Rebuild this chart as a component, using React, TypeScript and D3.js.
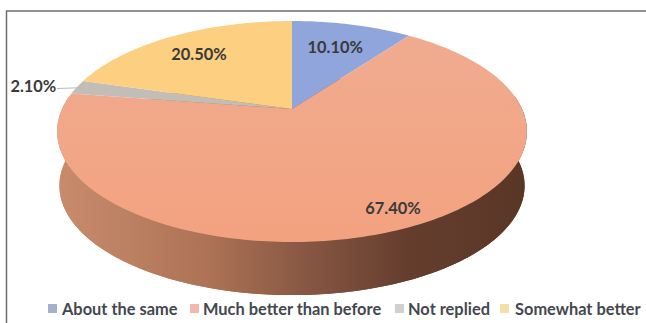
import React from "react";
import * as d3 from "d3";

const categories = ["About the same", "Much better than before", "Not replied", "Somewhat better"];
const shares = [10.1, 67.4, 2.1, 20.5];
const sliceFills = ["#8fa5dc", "url(#salmonTop)", "#c2bdb6", "#fccf81"];
const legendFills = ["#a3b1cb", "#f3b7ab", "#d0cfcd", "#f8dfa6"];
const legendSwatchX = [48, 190, 395, 500];
const legendTextX = [62, 203, 408, 515];
const labelRadii = [0.7, 0.85, 1.12, 0.73];
const labelNudgeX = [-1, 12, -19, -3];
const labelNudgeY = [0, -1, 1, 0];

const WIDTH = 646;
const HEIGHT = 323;

// Perspective projection of a disc lying flat: the near rim spreads further from the hub than the far rim.
const tilt = 0.2036;
const discTop = { cx: 292, cy: 109, rx: 230, ry: 105.9 };
const discBottom = { cx: 292, cy: 163.5, rx: 227.7, ry: 104.8 };

type Disc = typeof discTop;
const project = (d: Disc, angle: number, r = 1): [number, number] => {
  const u = Math.sin(angle) * r;
  const v = -Math.cos(angle) * r;
  const w = 1 - tilt * v;
  return [d.cx + (d.rx * u) / w, d.cy + (d.ry * v) / w];
};

const rimAngles = (a0: number, a1: number) => {
  const n = Math.max(2, Math.ceil(Math.abs(a1 - a0) / 0.02));
  return d3.range(n + 1).map((i) => a0 + ((a1 - a0) * i) / n);
};

const pieLayout = d3.pie<number>().sort(null).startAngle(0).endAngle(2 * Math.PI);
const line = d3.line();

export default function App() {
  const arcs = pieLayout(shares);
  const sideAngles = rimAngles(Math.PI * 0.46, Math.PI * 1.54);
  const sidePath =
    line([
      ...sideAngles.map((a) => project(discTop, a)),
      ...sideAngles.slice().reverse().map((a) => project(discBottom, a)),
    ]) + "Z";
  const bottomPath = line(rimAngles(0, 2 * Math.PI).map((a) => project(discBottom, a))) + "Z";
  const fmt = (v: number) => v.toFixed(2) + "%";

  const notReplied = arcs[2];
  const leaderEnd = project(discTop, (notReplied.startAngle + notReplied.endAngle) / 2, 0.97);

  return (
    <svg
      width={WIDTH}
      height={HEIGHT}
      style={{ position: "fixed", left: 0, top: 0, background: "#fff" }}
      fontFamily="Lato, sans-serif"
      fontWeight={700}
    >
      <defs>
        <linearGradient id="sideShade" gradientUnits="userSpaceOnUse" x1={57} x2={527} y1={0} y2={0}>
          <stop offset="0" stopColor="#c98b6c" />
          <stop offset="0.32" stopColor="#ad7356" />
          <stop offset="0.56" stopColor="#825340" />
          <stop offset="0.75" stopColor="#643d2d" />
          <stop offset="1" stopColor="#5a3626" />
        </linearGradient>
        <linearGradient id="salmonTop" gradientUnits="userSpaceOnUse" x1={0} x2={0} y1={21} y2={242}>
          <stop offset="0" stopColor="#f0ac90" />
          <stop offset="1" stopColor="#f3a280" />
        </linearGradient>
      </defs>

      <path d={`M6.5,${HEIGHT}V11H${WIDTH}`} fill="none" stroke="#6e6e6e" strokeWidth={1.5} />

      <path d={bottomPath} fill="url(#sideShade)" />
      <path d={sidePath} fill="url(#sideShade)" />

      {arcs.map((a, i) => {
        const pts = rimAngles(a.startAngle, a.endAngle).map((t) => project(discTop, t));
        return <path key={categories[i]} d={line([[discTop.cx, discTop.cy], ...pts]) + "Z"} fill={sliceFills[i]} />;
      })}

      <line x1={57} y1={88.5} x2={leaderEnd[0]} y2={leaderEnd[1]} stroke="#b9b9b9" strokeWidth={1} />

      {arcs.map((a, i) => {
        const [x, y] = project(discTop, (a.startAngle + a.endAngle) / 2, labelRadii[i]);
        return (
          <text
            key={i}
            x={x + labelNudgeX[i]}
            y={y + labelNudgeY[i]}
            textAnchor="middle"
            dominantBaseline="central"
            fontSize={16.4}
            fill="#3a3a3a"
          >
            {fmt(shares[i])}
          </text>
        );
      })}

      {categories.map((c, i) => (
        <g key={c}>
          <rect x={legendSwatchX[i]} y={304} width={9} height={9} fill={legendFills[i]} />
          <text x={legendTextX[i]} y={308.5} dominantBaseline="central" fontSize={16.4} fill="#44474f">
            {c}
          </text>
        </g>
      ))}
    </svg>
  );
}
